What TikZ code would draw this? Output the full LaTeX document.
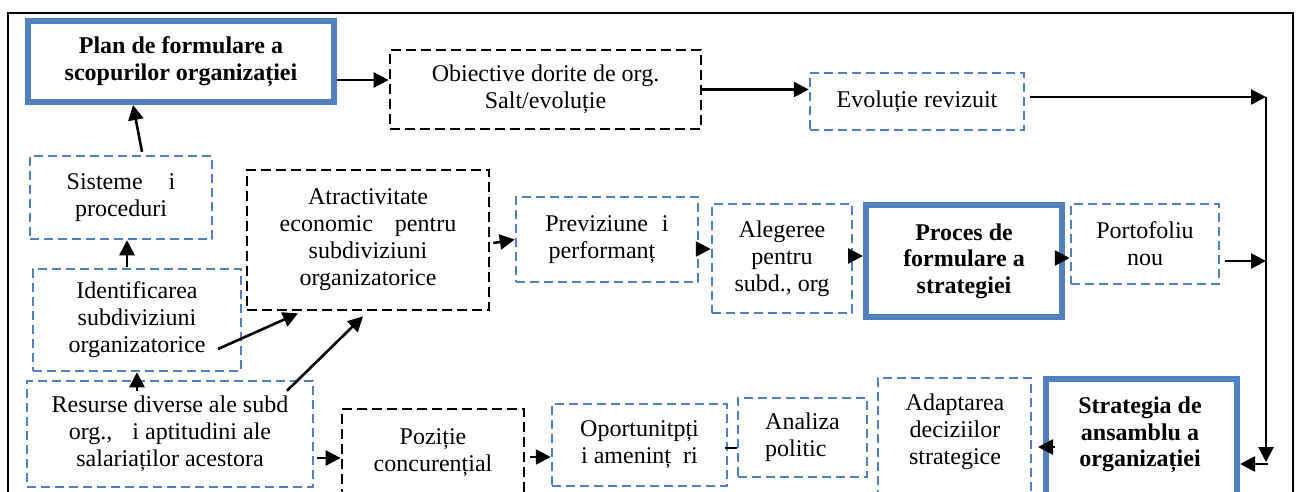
\documentclass[tikz,border=0pt]{standalone}
\usepackage{fontspec}
\setmainfont{Liberation Serif}
\usetikzlibrary{arrows.meta,calc}
\definecolor{ofblue}{RGB}{79,129,189}
\begin{document}
\begin{tikzpicture}[x=1pt,y=-1pt,
  txt/.style={font=\fontsize{24}{27}\selectfont, align=center, inner sep=0pt},
  boldtxt/.style={txt, font=\fontsize{24}{26.5}\selectfont\bfseries},
  bluebox/.style={txt, draw=ofblue, line width=2.5pt, dash pattern=on 9pt off 5pt},
  blackbox/.style={txt, draw=black, line width=2.7pt, dash pattern=on 10pt off 5pt},
  keybox/.style={boldtxt, draw=ofblue, line width=6pt},
  arr/.style={line width=2.6pt, -{Triangle[length=15pt,width=15pt]}},
  link/.style={line width=2.6pt},
]
\useasboundingbox (0,0) rectangle (1300,492);
\fill[white] (0,0) rectangle (1300,492);
\clip (0,0) rectangle (1300,492);

% outer frame
\draw[line width=1.6pt] (8,13) rectangle (1293,520);

% top row
\node[keybox, minimum width=306pt, minimum height=81pt] (plan) at (181,61.5)
  {Plan de formulare a\\scopurilor organizației};
\node[blackbox, minimum width=311pt, minimum height=79pt] (obj) at (545.5,89.5)
  {Obiective dorite de org.\\Salt/evoluție};
\node[bluebox, minimum width=214pt, minimum height=57pt] (evo) at (917,101.5)
  {Evoluție revizuit};

% left column and middle row
\node[bluebox, minimum width=182pt, minimum height=83pt] (sis) at (121,197.5)
  {Sisteme\hspace{26pt}i\\proceduri};
\node[bluebox, minimum width=208pt, minimum height=102pt] (ident) at (137,320)
  {Identificarea\\subdiviziuni\\organizatorice};
\node[blackbox, minimum width=242pt, minimum height=140pt] (atr) at (368,240)
  {Atractivitate\\economic\hspace{22pt}pentru\\subdiviziuni\\organizatorice};
\node[bluebox, minimum width=182pt, minimum height=85pt] (prev) at (607,239.5)
  {Previziune\hspace{14pt}i\\performanț\kern10pt};
\node[bluebox, minimum width=140pt, minimum height=109pt] (aleg) at (782,258.5)
  {Alegeree\\pentru\\subd., org};
\node[keybox, minimum width=196pt, minimum height=112pt] (proc) at (964,261)
  {Proces de\\formulare a\\strategiei};
\node[bluebox, minimum width=148pt, minimum height=80pt] (port) at (1145,244)
  {Portofoliu\\nou};

% bottom row
\node[bluebox, minimum width=286pt, minimum height=106pt] (res) at (170,434)
  {Resurse diverse ale subd\\org.,\hspace{20pt}i aptitudini ale\\salariaților acestora};
\node[blackbox, minimum width=182pt, minimum height=111pt] (poz) at (433,464.5) {};
\node[txt] (pozt) at (433,453) {Poziție\\concurențial};
\node[bluebox, minimum width=175pt, minimum height=82pt] (opor) at (639.5,445)
  {Oportunitpți\\i ameninț\hspace{12pt}ri};
\node[bluebox, minimum width=129pt, minimum height=79pt, align=left] (anal) at (802.5,437.5)
  {Analiza\\politic};
\node[bluebox, minimum width=153pt, minimum height=142pt] (adapt) at (954.5,449) {};
\node[txt] (adaptt) at (955,432) {Adaptarea\\deciziilor\\strategice};
\node[keybox, minimum width=191pt, minimum height=151pt] (strat) at (1141.5,454.5) {};
\node[boldtxt] (stratt) at (1140,435) {Strategia de\\ansamblu a\\organizației};

% right-hand collector line
\coordinate (top) at (1266,97);
\coordinate (low) at (1266,464);
\coordinate (pe) at ($(port.east)+(5,17)$);

% connectors
\draw[arr] ($(plan.east)+(0,18.5)$) -- ($(obj.west)+(0,-9.5)$);
\draw[arr] (obj.east) -- (obj.east -| evo.west);
\draw[arr] ($(evo.east)+(5,-4.5)$) -- (top);
\draw[arr] (top) -- ($(low)+(0,-2)$);
\draw[arr] ($(low)+(2,0)$) -- (low -| strat.east);
\draw[arr] (pe) -- (pe -| top);

\draw[arr] ($(sis.north)+(21,-3)$) -- ($(plan.south)+(-48,0)$);
\draw[arr] ($(ident.north)+(-10,-1)$) -- ($(sis.south)+(6,0)$);
\draw[arr] ($(res.north)+(-33,11)$) -- (ident.south);
\draw[arr] ($(ident.center)+(81,29)$) -- ($(atr.south)+(-70,2)$);
\draw[arr] ($(res.north)+(117,11)$) -- ($(atr.south)+(-5,5)$);
\draw[arr] ($(atr.east)+(3,3)$) -- (prev.west);
\draw[arr] ($(prev.east)+(0,9.5)$) -- ($(aleg.west)+(0,-9.5)$);
\draw[arr] ($(aleg.east)+(0,-2.5)$) -- ($(proc.west)+(0,-5)$);
\draw[arr] ($(proc.east)+(0,-3)$) -- ($(port.west)+(0,14)$);

\draw[arr] ($(res.east)+(3,24)$) -- ($(poz.west)+(0,-6.5)$);
\draw[arr] ($(poz.east)+(5,-7.5)$) -- ($(opor.west)+(0,12)$);
\draw[link] ($(opor.east)+(-3,3)$) -- ($(anal.west)+(0,10.5)$);
\draw[arr] ($(strat.west)+(12,-7.5)$) -- ($(strat.west)+(-5,-7.5)$);
\end{tikzpicture}
\end{document}
